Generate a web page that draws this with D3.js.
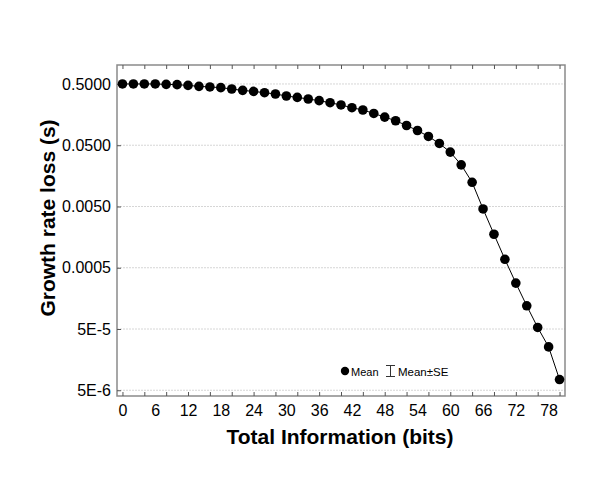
<!DOCTYPE html>
<html>
<head>
<meta charset="utf-8">
<script src="https://cdn.jsdelivr.net/npm/d3@7"></script>
<style>
  body { margin: 0; background: #fff; }
  svg text { font-family: "Liberation Sans", Arial, sans-serif; fill: #000; }
</style>
</head>
<body>
<div class="d3chart"></div>
<script>
var width = 600,
    height = 482;

// total information (bits)
var bits = [0, 2, 4, 6, 8, 10, 12, 14, 16, 18, 20, 22, 24, 26, 28, 30, 32, 34, 36, 38, 40,
            42, 44, 46, 48, 50, 52, 54, 56, 58, 60, 62, 64, 66, 68, 70, 72, 74, 76, 78, 80];
// mean growth rate loss
var loss = [0.5, 0.5, 0.5, 0.5, 0.4925, 0.487, 0.474, 0.457, 0.447, 0.435, 0.414,
            0.393, 0.378, 0.360, 0.343, 0.318, 0.302, 0.284, 0.267, 0.247, 0.227,
            0.205, 0.188, 0.165, 0.144, 0.1255, 0.105, 0.087, 0.0695, 0.0534, 0.0386,
            0.0239, 0.0124, 0.00456, 0.00176, 0.000687, 0.000281, 0.0001196, 5.3e-5, 2.55e-5, 7.48e-6];

var xTickLabels = [0, 6, 12, 18, 24, 30, 36, 42, 48, 54, 60, 66, 72, 78];
var xMinorTicks = d3.range(0, 81, 4);
var yTicks = [0.5, 0.05, 0.005, 0.0005, 5e-5, 5e-6];
var yTickText = ["0.5000", "0.0500", "0.0050", "0.0005", "5E-5", "5E-6"];

var pLeft = 117, pRight = 565, pTop = 65, pBottom = 396;

var svg = d3.select(".d3chart").append("svg")
    .attr("width", width)
    .attr("height", height);

var x = d3.scaleLinear().domain([-1, 81]).range([pLeft, pRight]);
var y = d3.scaleLog().domain([4.03e-6, 1.02]).range([pBottom, pTop]);

// grid lines
svg.append("g")
    .selectAll("line")
    .data(yTicks)
    .enter().append("line")
    .attr("x1", pLeft).attr("x2", pRight)
    .attr("y1", d => y(d)).attr("y2", d => y(d))
    .attr("stroke", "#d6d6d6")
    .attr("stroke-width", 1)
    .attr("stroke-dasharray", "2,1");

// frame
svg.append("rect")
    .attr("x", pLeft).attr("y", pTop)
    .attr("width", pRight - pLeft).attr("height", pBottom - pTop)
    .attr("fill", "none")
    .attr("stroke", "#8a8a8a")
    .attr("stroke-width", 1.5);

// x ticks, bottom and top, pointing inward
var xb = d3.axisBottom(x).tickValues(xMinorTicks).tickSize(-4).tickFormat("");
svg.append("g").attr("transform", "translate(0," + pBottom + ")").call(xb)
    .call(g => g.select(".domain").remove())
    .call(g => g.selectAll("line").attr("stroke", "#555"));
var xt = d3.axisTop(x).tickValues(xMinorTicks).tickSize(-4).tickFormat("");
svg.append("g").attr("transform", "translate(0," + pTop + ")").call(xt)
    .call(g => g.select(".domain").remove())
    .call(g => g.selectAll("line").attr("stroke", "#555"));

// x labels
var xl = d3.axisBottom(x).tickValues(xTickLabels).tickSize(0).tickPadding(9);
svg.append("g").attr("transform", "translate(0," + pBottom + ")").call(xl)
    .call(g => g.select(".domain").remove())
    .call(g => g.selectAll("text")
        .attr("font-size", "16px")
        .attr("font-family", "Liberation Sans, Arial, sans-serif")
        .attr("fill", "#000"));

// y axis
var ya = d3.axisLeft(y).tickValues(yTicks).tickSize(-4).tickPadding(6)
    .tickFormat((d, i) => yTickText[i]);
svg.append("g").attr("transform", "translate(" + pLeft + ",0)").call(ya)
    .call(g => g.select(".domain").remove())
    .call(g => g.selectAll("line").attr("stroke", "#555"))
    .call(g => g.selectAll("text")
        .attr("font-size", "16px")
        .attr("font-family", "Liberation Sans, Arial, sans-serif")
        .attr("fill", "#000"));

// connecting line
var pts = bits.map((b, i) => [b, loss[i]]);
svg.append("path")
    .datum(pts)
    .attr("fill", "none")
    .attr("stroke", "#000")
    .attr("stroke-width", 1)
    .attr("d", d3.line().x(d => x(d[0])).y(d => y(d[1])));

// points
svg.append("g")
    .selectAll("circle")
    .data(pts)
    .enter().append("circle")
    .attr("cx", d => x(d[0]))
    .attr("cy", d => y(d[1]))
    .attr("r", 4.8)
    .attr("fill", "#000");

// legend
var lg = svg.append("g").attr("transform", "translate(345,371)");
lg.append("circle").attr("cx", 0).attr("cy", 0).attr("r", 4.2).attr("fill", "#000");
lg.append("text").attr("x", 6).attr("y", 4.5).attr("font-size", "11px").text("Mean");
lg.append("path")
    .attr("d", "M41,-5.5H50M45.5,-5.5V5.5M41,5.5H50")
    .attr("stroke", "#333").attr("fill", "none").attr("stroke-width", 1);
lg.append("text").attr("x", 53).attr("y", 4.5).attr("font-size", "11.5px").text("Mean\u00b1SE");

// axis titles
svg.append("text")
    .attr("x", 340).attr("y", 444)
    .attr("text-anchor", "middle")
    .attr("font-size", "21px")
    .attr("font-weight", "bold")
    .text("Total Information (bits)");

svg.append("text")
    .attr("transform", "translate(55,218) rotate(-90)")
    .attr("text-anchor", "middle")
    .attr("font-size", "21px")
    .attr("font-weight", "bold")
    .text("Growth rate loss (s)");
</script>
</body>
</html>
